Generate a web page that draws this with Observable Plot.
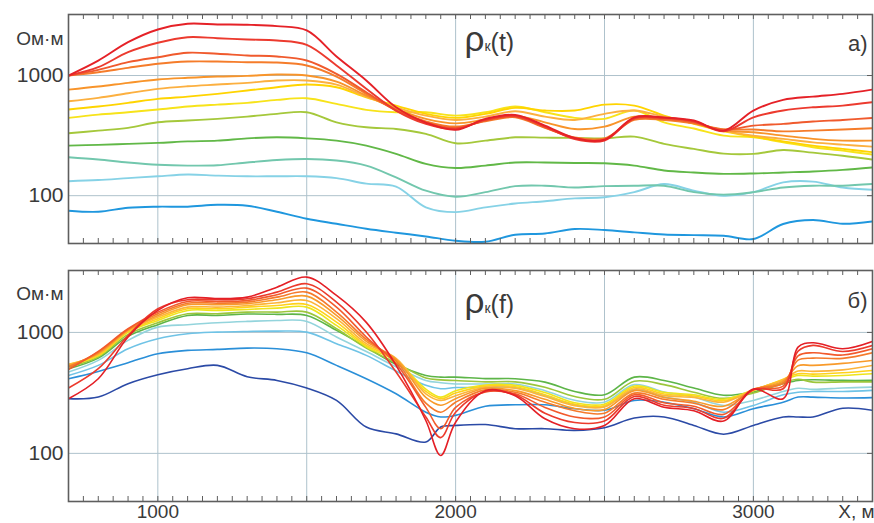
<!DOCTYPE html>
<html><head><meta charset="utf-8">
<script src="https://cdn.jsdelivr.net/npm/d3@7"></script>
<script src="https://cdn.jsdelivr.net/npm/@observablehq/plot@0.6"></script>
<style>
body{margin:0;background:#fff;}
#chart{width:874px;height:523px;overflow:hidden;background:#fff;}
#chart svg{display:block;}
</style></head><body><div id="chart"></div>
<script>
// ---------- Panel a) rho_k(t) ----------
const xTop = [700,800,900,1000,1100,1200,1300,1400,1500,1600,1700,1800,1900,2000,2100,2200,2300,2400,2500,2600,2700,2800,2900,3000,3100,3200,3300,3400];
const t1  = [75,73.5,79.4,81,81,84,82.5,73.5,64.3,58.4,53.1,49.2,45.8,42.2,41.4,47.3,48.5,52.8,51.8,49.5,47.5,47,46.4,43.6,58.1,62.7,58.4,61.1];
const t2  = [132,135,140,145,150,147,145,145,145,140,126,119,80,73,80,86,90,95,97,107,125,110,100,107,129,131,117,112];
const t3  = [209,200,189,181,178,179,189,198,202,196,178,142,110,98,107,120,121,117,120,121,121,107,102,107,117,121,121,125];
const t4  = [261,265,270,275,283,287,300,306,300,287,261,223,184,170,178,189,189,187,186,178,162,156,152,153,156,159,164,172];
const t5  = [331,348,367,408,422,436,455,480,495,408,371,359,327,273,287,306,304,303,300,310,270,245,224,223,240,228,215,200];
const t6  = [444,473,495,521,552,573,592,627,647,581,518,495,495,464,495,552,495,444,436,511,408,362,316,306,278,253,237,220];
const t7  = [521,552,592,639,668,704,750,799,841,799,659,562,480,444,480,538,511,511,573,562,464,396,343,310,283,261,245,230];
const t8  = [611,652,712,775,814,841,869,909,909,841,668,544,464,427,455,504,455,427,480,511,455,408,348,316,297,278,266,256];
const t9  = [764,810,869,926,957,981,994,1019,1000,891,681,528,436,400,430,464,408,359,376,455,444,400,348,337,316,297,287,287];
const t10 = [1000,1065,1159,1252,1308,1308,1291,1283,1212,981,704,518,416,376,416,449,367,305,300,427,427,400,357,355,343,348,355,364];
const t11 = [1000,1115,1291,1421,1546,1516,1468,1440,1334,1033,726,511,408,367,422,455,371,300,294,436,436,408,353,383,396,414,427,444];
const t12 = [1000,1173,1564,1873,2085,2045,1995,1957,1802,1212,775,511,396,359,427,461,376,296,288,441,444,416,343,449,511,544,562,599];
const t13 = [1000,1330,1895,2417,2697,2661,2646,2576,2371,1440,909,544,406,353,436,470,383,302,292,449,447,422,348,511,627,668,704,764];
const topColors = ["#1f97de","#86d2e6","#72c7ad","#61b847","#a5c83b","#f7e31a","#ffd400","#fcb040","#f8942a","#f57c2a","#f05a2d","#ec3a2e","#e52127"];

// ---------- Panel б) rho_k(f) ----------
const xBottom = [700,800,900,1000,1100,1200,1300,1400,1500,1600,1700,1800,1900,1950,2000,2100,2200,2300,2400,2500,2600,2700,2800,2900,3000,3100,3150,3200,3300,3400];
const b1  = [283,292,377,447,501,534,430,401,347,274,165,145,124,165,170,173,160,160,155,163,196,200,170,144,170,200,200,200,236,227];
const b2  = [414,476,562,667,710,724,742,733,679,534,414,311,219,200,206,245,252,252,234,227,274,265,234,200,234,265,292,292,287,289];
const b3  = [441,534,733,887,975,1006,1019,1025,1006,807,646,480,365,342,350,350,350,300,252,245,335,292,265,219,249,305,320,325,325,332];
const b4  = [470,587,859,1106,1158,1203,1233,1256,1233,915,696,520,401,384,375,375,375,330,275,265,370,322,292,249,274,325,345,338,347,353];
const b5  = [501,613,927,1158,1382,1382,1419,1410,1382,1039,756,545,441,427,427,415,414,388,325,305,427,401,347,302,322,376,400,406,401,401];
const b6  = [517,630,963,1203,1427,1427,1472,1472,1472,1073,742,560,420,405,400,390,390,352,295,280,395,370,320,285,315,385,410,388,390,390];
const b7  = [534,640,1000,1256,1520,1520,1549,1588,1618,1142,762,580,340,292,330,368,365,318,262,255,360,320,305,280,335,405,440,435,440,455];
const b8  = [545,650,1019,1298,1569,1569,1618,1671,1703,1217,781,600,325,283,315,360,355,305,255,248,350,310,298,272,330,410,455,452,464,485];
const b9  = [541,661,1032,1338,1618,1618,1671,1757,1838,1298,807,610,311,274,300,352,345,295,248,242,340,300,290,265,335,405,480,476,490,534];
const b10 = [528,673,1045,1382,1694,1694,1728,1864,1995,1382,843,600,290,250,283,345,330,280,235,230,330,290,270,245,335,395,530,534,555,587];
const b11 = [517,685,1059,1427,1745,1745,1780,1957,2153,1472,875,580,260,219,265,335,320,265,225,215,315,280,260,230,338,380,590,613,610,679];
const b12 = [494,697,1073,1472,1803,1803,1838,2048,2323,1618,915,551,240,160,240,322,311,240,200,200,305,262,245,210,335,360,640,679,650,733];
const b13 = [347,501,944,1569,1864,1864,1901,2153,2525,1780,1006,470,200,135,219,325,305,215,180,185,295,250,235,195,338,342,700,781,696,781];
const b14 = [283,414,915,1520,1934,1901,1957,2366,2864,2022,1210,534,187,96,181,330,300,193,160,170,283,241,225,185,340,283,756,822,733,843];
const bottomColors = ["#2b4aa6","#2a8fd8","#6fc3e6","#93d4dc","#5db548","#9cc63b","#eee51c","#ffd21a","#fcb43a","#f89a2a","#f57a2b","#f25a2c","#ec3a2c","#e41f26"];

// ---------- ticks and labels ----------
const xTickLabels = [1000, 2000, 3000];
const xGridLines = [1000, 1500, 2000, 2500, 3000];
const yTickLabels = [100, 1000];
const minorTicks = d3.range(750, 3400, 50);
const unitLabel = "Ом·м";
const xAxisLabel = "X, м";

const FONT = "'Liberation Sans', Arial, Helvetica, sans-serif";
const TEXT = "#3a3a3a";
const GRID = "#aec2cc";
const FRAME = "#5e5e5e";
const W = 874, ML = 68, MR = 2, XDOM = [700, 3400], TICK = 5;

function panel(o) {
  const data = o.series.flatMap((vals, s) => vals.map((v, j) => ({X: o.xs[j], rho: v, s})));
  const frameH = o.height - o.marginTop - o.marginBottom;
  const k = Math.pow(o.yDomain[1] / o.yDomain[0], TICK / frameH);      // 5 px in the log scale
  const dxm = TICK * (XDOM[1] - XDOM[0]) / (W - ML - MR);               // 5 px in metres
  const marks = [
    Plot.gridX(xGridLines, {stroke: GRID, strokeOpacity: 1, strokeWidth: 1}),
    Plot.gridY(yTickLabels, {stroke: GRID, strokeOpacity: 1, strokeWidth: 1}),
    Plot.line(data, {x: "X", y: "rho", z: "s", stroke: d => o.colors[d.s], strokeWidth: o.lw, curve: "catmull-rom", clip: true}),
    // inward minor ticks on the top and bottom edges, and at the y gridlines on the right edge
    Plot.ruleX(minorTicks, {y1: o.yDomain[1], y2: o.yDomain[1] / k, stroke: FRAME, strokeWidth: 1}),
    Plot.ruleX(minorTicks, {y1: o.yDomain[0], y2: o.yDomain[0] * k, stroke: FRAME, strokeWidth: 1}),
    Plot.ruleY(yTickLabels, {x1: XDOM[1] - dxm, x2: XDOM[1], stroke: FRAME, strokeWidth: 1}),
    Plot.frame({stroke: FRAME, strokeWidth: 1.6}),
    Plot.axisY(yTickLabels, {anchor: "left", tickSize: 0, tickPadding: 5, tickFormat: d => String(d), label: null, fill: TEXT, fontSize: 21}),
    Plot.text([unitLabel], {frameAnchor: "top-left", textAnchor: "end", dx: -5, dy: o.unitDy, fontSize: 19, fill: TEXT}),
    Plot.text([o.tag], {frameAnchor: "top-right", textAnchor: "end", dx: -5, dy: o.tagDy, fontSize: 22, fill: TEXT})
  ];
  if (o.xLabels) {
    marks.push(Plot.axisX(xTickLabels, {anchor: "bottom", tickSize: 0, tickPadding: 3, tickFormat: d => String(d), label: null, fill: TEXT, fontSize: 19}));
    marks.push(Plot.text([xAxisLabel], {frameAnchor: "bottom-right", textAnchor: "end", lineAnchor: "top", dx: 2, dy: 3, fontSize: 19, fill: TEXT}));
  } else {
    marks.push(Plot.axisX([], {anchor: "bottom", tickSize: 0, label: null}));
  }
  const plot = Plot.plot({
    width: W, height: o.height,
    marginLeft: ML, marginRight: MR, marginTop: o.marginTop, marginBottom: o.marginBottom,
    style: {fontFamily: FONT, fontSize: "21px", color: TEXT, background: "#fff", overflow: "visible"},
    x: {domain: XDOM},
    y: {type: "log", domain: o.yDomain},
    marks
  });
  // title rho_k(t) / rho_k(f) with a small subscript
  const xs = plot.scale("x");
  const t = d3.select(plot).append("text")
    .attr("x", xs.apply(o.titleX)).attr("y", o.marginTop + o.titleDy)
    .attr("font-family", FONT).attr("fill", TEXT);
  t.append("tspan").attr("font-size", 35).text("ρ");
  t.append("tspan").attr("font-size", 14).text("к");
  t.append("tspan").attr("font-size", 25).text("(" + o.arg + ")");
  return plot;
}

const chart = document.getElementById("chart");
chart.append(panel({
  xs: xTop, series: [t1,t2,t3,t4,t5,t6,t7,t8,t9,t10,t11,t12,t13], colors: topColors, lw: 1.9,
  height: 255, marginTop: 14, marginBottom: 12, yDomain: [40, 3220],
  unitDy: 17, tag: "а)", tagDy: 21, titleX: 2115, titleDy: 37, arg: "t", xLabels: false
}));
chart.append(panel({
  xs: xBottom, series: [b1,b2,b3,b4,b5,b6,b7,b8,b9,b10,b11,b12,b13,b14], colors: bottomColors, lw: 1.6,
  height: 268, marginTop: 15, marginBottom: 22, yDomain: [40, 3250],
  unitDy: 16, tag: "б)", tagDy: 22, titleX: 2115, titleDy: 43, arg: "f", xLabels: true
}));
</script>
</body></html>
